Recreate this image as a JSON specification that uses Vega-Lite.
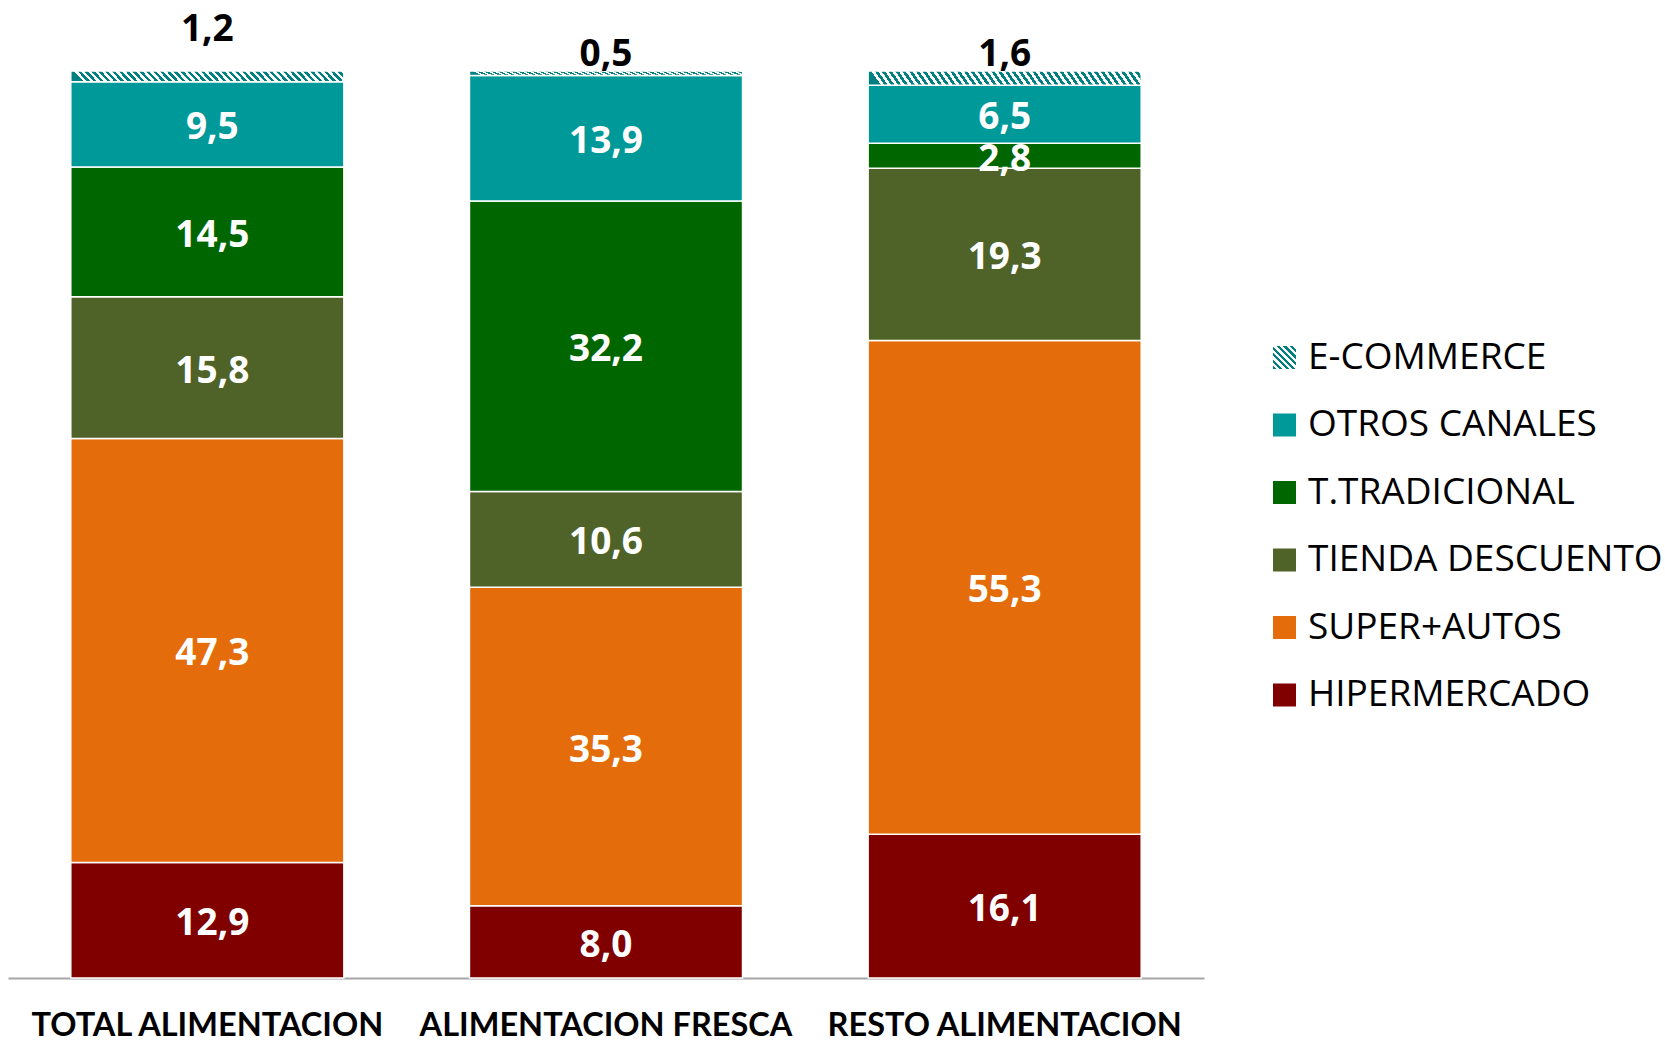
{
  "$schema": "https://vega.github.io/schema/vega-lite/v6.json",
  "width": 1196,
  "height": 907,
  "autosize": "none",
  "padding": {"left": 8, "top": 71, "right": 461, "bottom": 63},
  "background": "white",
  "data": {
    "values": [
      {"cat": "TOTAL ALIMENTACION", "canal": "HIPERMERCADO", "v": 12.9},
      {"cat": "TOTAL ALIMENTACION", "canal": "SUPER+AUTOS", "v": 47.3},
      {"cat": "TOTAL ALIMENTACION", "canal": "TIENDA DESCUENTO", "v": 15.8},
      {"cat": "TOTAL ALIMENTACION", "canal": "T.TRADICIONAL", "v": 14.5},
      {"cat": "TOTAL ALIMENTACION", "canal": "OTROS CANALES", "v": 9.5},
      {"cat": "TOTAL ALIMENTACION", "canal": "E-COMMERCE", "v": 1.2},
      {"cat": "ALIMENTACION FRESCA", "canal": "HIPERMERCADO", "v": 8.0},
      {"cat": "ALIMENTACION FRESCA", "canal": "SUPER+AUTOS", "v": 35.3},
      {"cat": "ALIMENTACION FRESCA", "canal": "TIENDA DESCUENTO", "v": 10.6},
      {"cat": "ALIMENTACION FRESCA", "canal": "T.TRADICIONAL", "v": 32.2},
      {"cat": "ALIMENTACION FRESCA", "canal": "OTROS CANALES", "v": 13.9},
      {"cat": "ALIMENTACION FRESCA", "canal": "E-COMMERCE", "v": 0.5},
      {"cat": "RESTO ALIMENTACION", "canal": "HIPERMERCADO", "v": 16.1},
      {"cat": "RESTO ALIMENTACION", "canal": "SUPER+AUTOS", "v": 55.3},
      {"cat": "RESTO ALIMENTACION", "canal": "TIENDA DESCUENTO", "v": 19.3},
      {"cat": "RESTO ALIMENTACION", "canal": "T.TRADICIONAL", "v": 2.8},
      {"cat": "RESTO ALIMENTACION", "canal": "OTROS CANALES", "v": 6.5},
      {"cat": "RESTO ALIMENTACION", "canal": "E-COMMERCE", "v": 1.6}
    ]
  },
  "transform": [
    {"calculate": "indexof(['HIPERMERCADO','SUPER+AUTOS','TIENDA DESCUENTO','T.TRADICIONAL','OTROS CANALES','E-COMMERCE'], datum.canal)", "as": "rank"},
    {"stack": "v", "groupby": ["cat"], "sort": [{"field": "rank", "order": "ascending"}], "offset": "normalize", "as": ["y0", "y1"]},
    {"calculate": "(datum.y0 + datum.y1) / 2", "as": "ymid"},
    {"calculate": "replace(format(datum.v, '.1f'), '.', ',')", "as": "lbl"}
  ],
  "encoding": {
    "x": {
      "field": "cat",
      "type": "nominal",
      "sort": ["TOTAL ALIMENTACION", "ALIMENTACION FRESCA", "RESTO ALIMENTACION"],
      "scale": {"paddingInner": 0.315, "paddingOuter": 0.1575},
      "axis": {
        "title": null,
        "labelAngle": 0,
        "ticks": false,
        "tickSize": 0,
        "labelPadding": 31,
        "labelFont": "Lato",
        "labelFontWeight": "bold",
        "labelFontSize": 32.5,
        "labelLimit": 0,
        "labelColor": "#000000",
        "domainColor": "#A6A6A6",
        "domainWidth": 2,
        "labelBaseline": "top"
      }
    }
  },
  "layer": [
    {
      "mark": {"type": "bar", "stroke": "white", "strokeWidth": 1.5},
      "encoding": {
        "y": {"field": "y0", "type": "quantitative", "scale": {"domain": [0, 1], "nice": false}, "axis": null},
        "y2": {"field": "y1"},
        "color": {
          "condition": {
            "test": "datum.canal === 'E-COMMERCE'",
            "value": {
              "gradient": "linear", "x1": 0, "y1": 0.0366, "x2": 1, "y2": 0,
              "stops": [
                {"offset": 0, "color": "teal"}, {"offset": 0.0125, "color": "teal"}, {"offset": 0.0125, "color": "white"}, {"offset": 0.025, "color": "white"},
                {"offset": 0.025, "color": "teal"}, {"offset": 0.0375, "color": "teal"}, {"offset": 0.0375, "color": "white"}, {"offset": 0.05, "color": "white"},
                {"offset": 0.05, "color": "teal"}, {"offset": 0.0625, "color": "teal"}, {"offset": 0.0625, "color": "white"}, {"offset": 0.075, "color": "white"},
                {"offset": 0.075, "color": "teal"}, {"offset": 0.0875, "color": "teal"}, {"offset": 0.0875, "color": "white"}, {"offset": 0.1, "color": "white"},
                {"offset": 0.1, "color": "teal"}, {"offset": 0.1125, "color": "teal"}, {"offset": 0.1125, "color": "white"}, {"offset": 0.125, "color": "white"},
                {"offset": 0.125, "color": "teal"}, {"offset": 0.1375, "color": "teal"}, {"offset": 0.1375, "color": "white"}, {"offset": 0.15, "color": "white"},
                {"offset": 0.15, "color": "teal"}, {"offset": 0.1625, "color": "teal"}, {"offset": 0.1625, "color": "white"}, {"offset": 0.175, "color": "white"},
                {"offset": 0.175, "color": "teal"}, {"offset": 0.1875, "color": "teal"}, {"offset": 0.1875, "color": "white"}, {"offset": 0.2, "color": "white"},
                {"offset": 0.2, "color": "teal"}, {"offset": 0.2125, "color": "teal"}, {"offset": 0.2125, "color": "white"}, {"offset": 0.225, "color": "white"},
                {"offset": 0.225, "color": "teal"}, {"offset": 0.2375, "color": "teal"}, {"offset": 0.2375, "color": "white"}, {"offset": 0.25, "color": "white"},
                {"offset": 0.25, "color": "teal"}, {"offset": 0.2625, "color": "teal"}, {"offset": 0.2625, "color": "white"}, {"offset": 0.275, "color": "white"},
                {"offset": 0.275, "color": "teal"}, {"offset": 0.2875, "color": "teal"}, {"offset": 0.2875, "color": "white"}, {"offset": 0.3, "color": "white"},
                {"offset": 0.3, "color": "teal"}, {"offset": 0.3125, "color": "teal"}, {"offset": 0.3125, "color": "white"}, {"offset": 0.325, "color": "white"},
                {"offset": 0.325, "color": "teal"}, {"offset": 0.3375, "color": "teal"}, {"offset": 0.3375, "color": "white"}, {"offset": 0.35, "color": "white"},
                {"offset": 0.35, "color": "teal"}, {"offset": 0.3625, "color": "teal"}, {"offset": 0.3625, "color": "white"}, {"offset": 0.375, "color": "white"},
                {"offset": 0.375, "color": "teal"}, {"offset": 0.3875, "color": "teal"}, {"offset": 0.3875, "color": "white"}, {"offset": 0.4, "color": "white"},
                {"offset": 0.4, "color": "teal"}, {"offset": 0.4125, "color": "teal"}, {"offset": 0.4125, "color": "white"}, {"offset": 0.425, "color": "white"},
                {"offset": 0.425, "color": "teal"}, {"offset": 0.4375, "color": "teal"}, {"offset": 0.4375, "color": "white"}, {"offset": 0.45, "color": "white"},
                {"offset": 0.45, "color": "teal"}, {"offset": 0.4625, "color": "teal"}, {"offset": 0.4625, "color": "white"}, {"offset": 0.475, "color": "white"},
                {"offset": 0.475, "color": "teal"}, {"offset": 0.4875, "color": "teal"}, {"offset": 0.4875, "color": "white"}, {"offset": 0.5, "color": "white"},
                {"offset": 0.5, "color": "teal"}, {"offset": 0.5125, "color": "teal"}, {"offset": 0.5125, "color": "white"}, {"offset": 0.525, "color": "white"},
                {"offset": 0.525, "color": "teal"}, {"offset": 0.5375, "color": "teal"}, {"offset": 0.5375, "color": "white"}, {"offset": 0.55, "color": "white"},
                {"offset": 0.55, "color": "teal"}, {"offset": 0.5625, "color": "teal"}, {"offset": 0.5625, "color": "white"}, {"offset": 0.575, "color": "white"},
                {"offset": 0.575, "color": "teal"}, {"offset": 0.5875, "color": "teal"}, {"offset": 0.5875, "color": "white"}, {"offset": 0.6, "color": "white"},
                {"offset": 0.6, "color": "teal"}, {"offset": 0.6125, "color": "teal"}, {"offset": 0.6125, "color": "white"}, {"offset": 0.625, "color": "white"},
                {"offset": 0.625, "color": "teal"}, {"offset": 0.6375, "color": "teal"}, {"offset": 0.6375, "color": "white"}, {"offset": 0.65, "color": "white"},
                {"offset": 0.65, "color": "teal"}, {"offset": 0.6625, "color": "teal"}, {"offset": 0.6625, "color": "white"}, {"offset": 0.675, "color": "white"},
                {"offset": 0.675, "color": "teal"}, {"offset": 0.6875, "color": "teal"}, {"offset": 0.6875, "color": "white"}, {"offset": 0.7, "color": "white"},
                {"offset": 0.7, "color": "teal"}, {"offset": 0.7125, "color": "teal"}, {"offset": 0.7125, "color": "white"}, {"offset": 0.725, "color": "white"},
                {"offset": 0.725, "color": "teal"}, {"offset": 0.7375, "color": "teal"}, {"offset": 0.7375, "color": "white"}, {"offset": 0.75, "color": "white"},
                {"offset": 0.75, "color": "teal"}, {"offset": 0.7625, "color": "teal"}, {"offset": 0.7625, "color": "white"}, {"offset": 0.775, "color": "white"},
                {"offset": 0.775, "color": "teal"}, {"offset": 0.7875, "color": "teal"}, {"offset": 0.7875, "color": "white"}, {"offset": 0.8, "color": "white"},
                {"offset": 0.8, "color": "teal"}, {"offset": 0.8125, "color": "teal"}, {"offset": 0.8125, "color": "white"}, {"offset": 0.825, "color": "white"},
                {"offset": 0.825, "color": "teal"}, {"offset": 0.8375, "color": "teal"}, {"offset": 0.8375, "color": "white"}, {"offset": 0.85, "color": "white"},
                {"offset": 0.85, "color": "teal"}, {"offset": 0.8625, "color": "teal"}, {"offset": 0.8625, "color": "white"}, {"offset": 0.875, "color": "white"},
                {"offset": 0.875, "color": "teal"}, {"offset": 0.8875, "color": "teal"}, {"offset": 0.8875, "color": "white"}, {"offset": 0.9, "color": "white"},
                {"offset": 0.9, "color": "teal"}, {"offset": 0.9125, "color": "teal"}, {"offset": 0.9125, "color": "white"}, {"offset": 0.925, "color": "white"},
                {"offset": 0.925, "color": "teal"}, {"offset": 0.9375, "color": "teal"}, {"offset": 0.9375, "color": "white"}, {"offset": 0.95, "color": "white"},
                {"offset": 0.95, "color": "teal"}, {"offset": 0.9625, "color": "teal"}, {"offset": 0.9625, "color": "white"}, {"offset": 0.975, "color": "white"},
                {"offset": 0.975, "color": "teal"}, {"offset": 0.9875, "color": "teal"}, {"offset": 0.9875, "color": "white"}, {"offset": 1, "color": "white"}
              ]
            }
          },
          "field": "canal",
          "type": "nominal",
          "scale": {
            "domain": ["E-COMMERCE", "OTROS CANALES", "T.TRADICIONAL", "TIENDA DESCUENTO", "SUPER+AUTOS", "HIPERMERCADO"],
            "range": [
              {"expr": "{gradient: 'linear', x1: 0, y1: 1, x2: 1, y2: 0, stops: [{offset: 0, color: 'teal'}, {offset: 0.0714, color: 'teal'}, {offset: 0.0714, color: 'white'}, {offset: 0.1429, color: 'white'}, {offset: 0.1429, color: 'teal'}, {offset: 0.2143, color: 'teal'}, {offset: 0.2143, color: 'white'}, {offset: 0.2857, color: 'white'}, {offset: 0.2857, color: 'teal'}, {offset: 0.3571, color: 'teal'}, {offset: 0.3571, color: 'white'}, {offset: 0.4286, color: 'white'}, {offset: 0.4286, color: 'teal'}, {offset: 0.5, color: 'teal'}, {offset: 0.5, color: 'white'}, {offset: 0.5714, color: 'white'}, {offset: 0.5714, color: 'teal'}, {offset: 0.6429, color: 'teal'}, {offset: 0.6429, color: 'white'}, {offset: 0.7143, color: 'white'}, {offset: 0.7143, color: 'teal'}, {offset: 0.7857, color: 'teal'}, {offset: 0.7857, color: 'white'}, {offset: 0.8571, color: 'white'}, {offset: 0.8571, color: 'teal'}, {offset: 0.9286, color: 'teal'}, {offset: 0.9286, color: 'white'}, {offset: 1, color: 'white'}]}"},
              "#009999", "#006600", "#4F6228", "#E46C0A", "#800000"
            ]
          },
          "legend": {
            "title": null,
            "orient": "none",
            "legendX": 1258,
            "legendY": 268,
            "padding": 0,
            "symbolType": "square",
            "symbolSize": 529,
            "symbolStrokeWidth": 0,
            "symbolOpacity": 1,
            "labelFont": "Open Sans",
            "labelFontSize": 37,
            "labelColor": "#000000",
            "labelOffset": 5,
            "rowPadding": 29.5,
            "labelLimit": 0
          }
        }
      }
    },
    {
      "transform": [{"filter": "datum.canal !== 'E-COMMERCE'"}],
      "mark": {"type": "text", "font": "Open Sans", "fontWeight": "bold", "fontSize": 37, "color": "white", "baseline": "middle", "align": "center", "dy": 4, "dx": {"expr": "datum.cat === 'TOTAL ALIMENTACION' ? 5 : 0"}},
      "encoding": {
        "y": {"field": "ymid", "type": "quantitative", "scale": {"domain": [0, 1], "nice": false}, "axis": null},
        "text": {"field": "lbl"}
      }
    },
    {
      "transform": [{"filter": "datum.canal === 'E-COMMERCE'"}],
      "mark": {"type": "text", "font": "Open Sans", "fontWeight": "bold", "fontSize": 37, "color": "black", "baseline": "middle", "align": "center", "dy": {"expr": "datum.cat === 'TOTAL ALIMENTACION' ? -41 : -16"}},
      "encoding": {
        "y": {"field": "y1", "type": "quantitative", "scale": {"domain": [0, 1], "nice": false}, "axis": null},
        "text": {"field": "lbl"}
      }
    }
  ],
  "config": {
    "view": {"stroke": null}
  }
}
